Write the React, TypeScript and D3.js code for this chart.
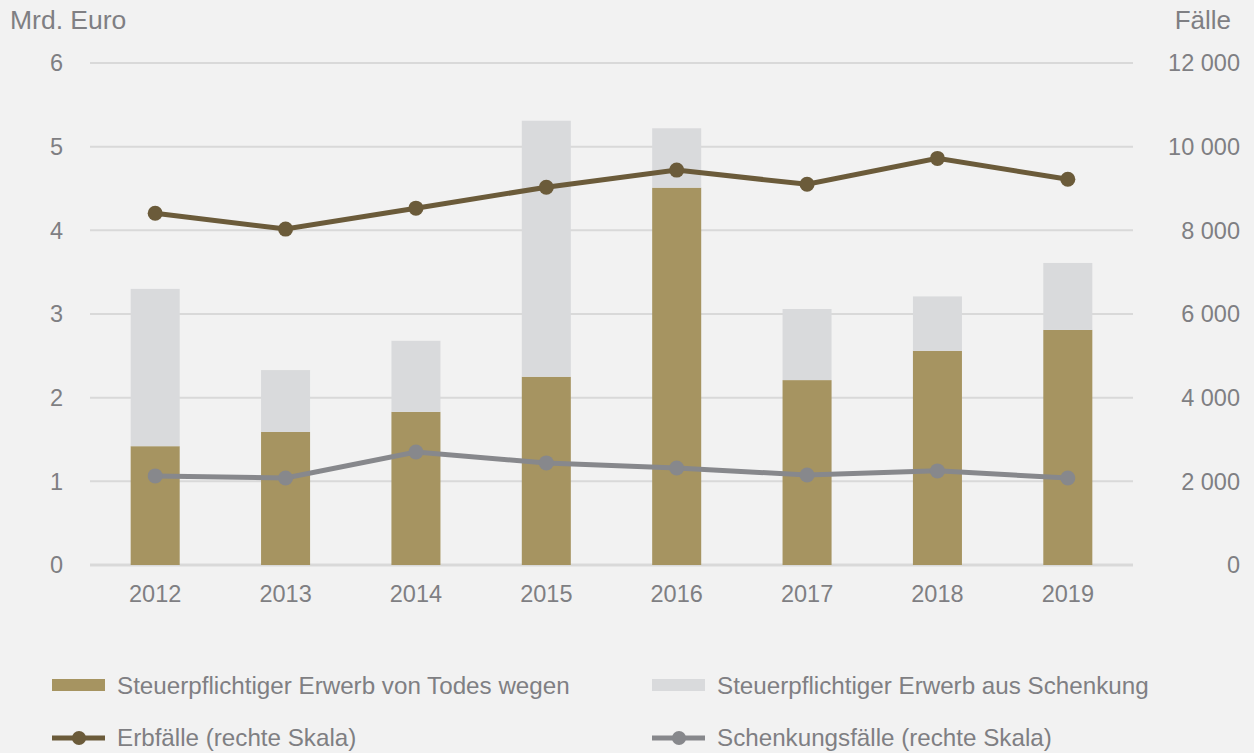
import React from "react";
import * as d3 from "d3";

const years = ["2012", "2013", "2014", "2015", "2016", "2017", "2018", "2019"];
const todesValues = [1.42, 1.59, 1.83, 2.25, 4.51, 2.21, 2.56, 2.81];
const schenkungValues = [1.88, 0.74, 0.85, 3.06, 0.71, 0.85, 0.65, 0.80];
const erbfaelle = [8410, 8030, 8530, 9030, 9440, 9100, 9720, 9220];
const schenkungsfaelle = [2130, 2080, 2700, 2440, 2320, 2150, 2250, 2080];
const leftTicks = [0, 1, 2, 3, 4, 5, 6];
const rightTicks = [0, 2000, 4000, 6000, 8000, 10000, 12000];

const W = 1254;
const H = 753;
const FONT = "'Liberation Sans', Arial, sans-serif";
const TEXT = "#7f7f83";
const C_TODES = "#a69461";
const C_SCHENK = "#d9dadc";
const C_ERB = "#6b5b3a";
const C_SLINE = "#87888c";

const App = () => {
  const x = d3.scaleBand<string>().domain(years).range([90, 1133]).paddingInner(0.624).paddingOuter(0.312);
  const yL = d3.scaleLinear().domain([0, 6]).range([565, 63]);
  const yR = d3.scaleLinear().domain([0, 12000]).range([565, 63]);
  const cx = (d: string) => (x(d) as number) + x.bandwidth() / 2;
  const fmt = (v: number) => d3.format(",")(v).replace(/,/g, " ");

  const erbLine = d3.line<number>().x((_, i) => cx(years[i])).y((v) => yR(v));
  const schLine = d3.line<number>().x((_, i) => cx(years[i])).y((v) => yR(v));

  return (
    <svg width={W} height={H} style={{ display: "block", position: "absolute", left: 0, top: 0, background: "#f2f2f2" }} fontFamily={FONT}>
      <rect width={W} height={H} fill="#f2f2f2" />
      {leftTicks.map((t) => (
        <g key={t}>
          <line x1={90} x2={1133} y1={yL(t)} y2={yL(t)} stroke="#d9d9d9" strokeWidth={t === 0 ? 3 : 2} />
          <text x={63} y={yL(t)} dy="0.35em" textAnchor="end" fontSize={23.5} fill={TEXT}>{t}</text>
        </g>
      ))}
      {rightTicks.map((t) => (
        <text key={t} x={1240} y={yR(t)} dy="0.35em" textAnchor="end" fontSize={23.5} fill={TEXT}>{fmt(t)}</text>
      ))}
      <text x={10} y={29} fontSize={26.5} fill={TEXT}>Mrd. Euro</text>
      <text x={1231} y={29} textAnchor="end" fontSize={26} fill={TEXT}>Fälle</text>

      {years.map((yr, i) => (
        <g key={yr}>
          <rect x={x(yr)} width={x.bandwidth()} y={yL(todesValues[i])} height={yL(0) - yL(todesValues[i])} fill={C_TODES} />
          <rect x={x(yr)} width={x.bandwidth()} y={yL(todesValues[i] + schenkungValues[i])} height={yL(todesValues[i]) - yL(todesValues[i] + schenkungValues[i])} fill={C_SCHENK} />
          <text x={cx(yr)} y={594} dy="0.35em" textAnchor="middle" fontSize={23.5} fill={TEXT}>{yr}</text>
        </g>
      ))}

      <path d={schLine(schenkungsfaelle) || ""} fill="none" stroke={C_SLINE} strokeWidth={5} />
      {schenkungsfaelle.map((v, i) => (
        <circle key={i} cx={cx(years[i])} cy={yR(v)} r={7.5} fill={C_SLINE} />
      ))}
      <path d={erbLine(erbfaelle) || ""} fill="none" stroke={C_ERB} strokeWidth={5} />
      {erbfaelle.map((v, i) => (
        <circle key={i} cx={cx(years[i])} cy={yR(v)} r={7.5} fill={C_ERB} />
      ))}

      <g fontSize={24.2} fill={TEXT}>
        <rect x={52} y={679} width={53} height={12} fill={C_TODES} />
        <text x={117} y={686} dy="0.35em">Steuerpflichtiger Erwerb von Todes wegen</text>
        <rect x={652} y={679} width={53} height={12} fill={C_SCHENK} />
        <text x={717} y={686} dy="0.35em">Steuerpflichtiger Erwerb aus Schenkung</text>
        <line x1={52} x2={105} y1={738} y2={738} stroke={C_ERB} strokeWidth={5} />
        <circle cx={79} cy={738} r={7} fill={C_ERB} />
        <text x={117} y={738} dy="0.35em">Erbfälle (rechte Skala)</text>
        <line x1={652} x2={705} y1={738} y2={738} stroke={C_SLINE} strokeWidth={5} />
        <circle cx={679} cy={738} r={7} fill={C_SLINE} />
        <text x={717} y={738} dy="0.35em">Schenkungsfälle (rechte Skala)</text>
      </g>
    </svg>
  );
};

export default App;
